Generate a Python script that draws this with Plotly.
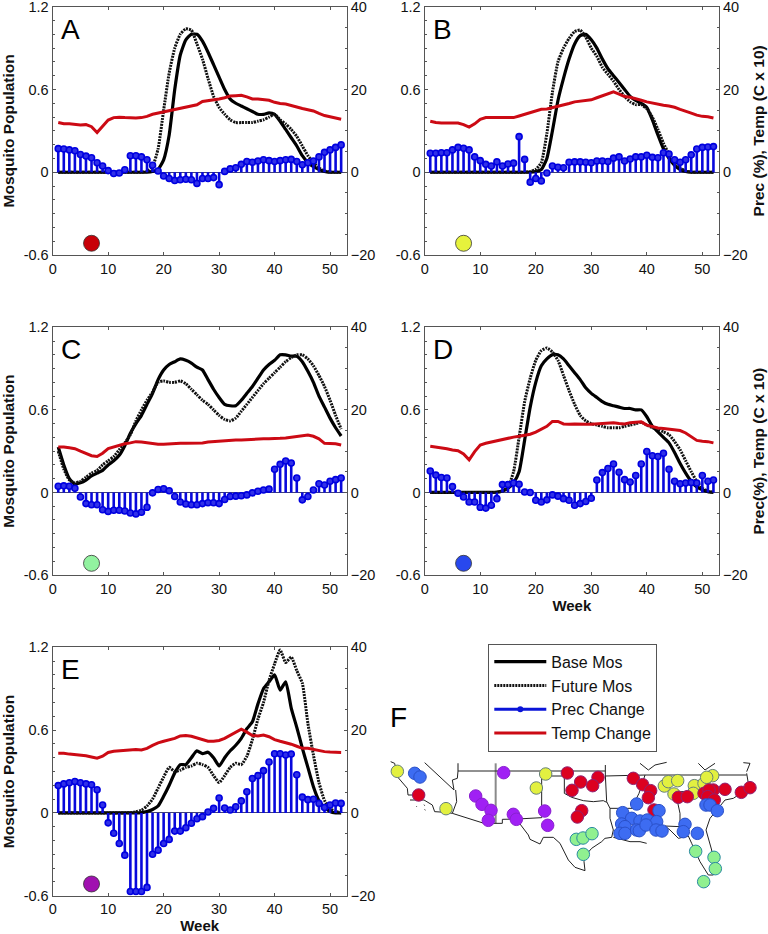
import plotly.graph_objects as go

WEEKS = list(range(1, 53))
PANELS = ["A", "B", "C", "D", "E"]

base_a = [0,0,0,0,0,0,0,0,0,0,0,0,0,0,0,0,0,.005,.02,.09,.27,.6,.85,.96,1.0,1.0,.95,.87,.78,.69,.6,.53,.5,.48,.46,.44,.42,.42,.43,.42,.37,.31,.25,.19,.12,.07,.04,.02,.005,0,0,0]
future_a = [0,0,0,0,0,0,0,0,0,0,0,0,0,0,0,0,.005,.04,.17,.45,.72,.9,1.0,1.04,1.03,.93,.82,.68,.55,.47,.42,.38,.36,.36,.36,.36,.37,.38,.4,.42,.38,.35,.31,.26,.19,.12,.07,.03,.01,0,0,0]
prec_a = [5.7,5.6,5.4,5.2,4.3,3.9,3.5,2.3,1.5,.4,-.3,-.2,.6,4.0,4.0,3.7,3.0,1.7,.3,-.9,-1.5,-2.0,-1.8,-1.7,-1.8,-2.7,-1.5,-1.5,-1.3,-3.0,.2,.8,1.1,1.9,2.6,2.4,2.7,3.0,2.8,2.6,2.8,3.0,3.1,2.6,1.8,2.3,2.7,3.7,4.8,5.4,6.0,6.6]
temp_a = [12.0,11.7,11.7,11.6,11.4,11.5,11.0,9.6,11.0,12.6,13.2,13.3,13.2,13.1,13.1,13.2,13.5,14.0,14.3,14.6,14.8,15.1,15.4,15.7,16.0,16.3,17.1,17.3,17.4,17.7,18.0,18.4,18.5,18.6,18.2,17.7,17.7,17.6,17.4,16.9,16.6,16.5,16.1,15.7,15.4,15.1,14.8,14.2,13.7,13.4,13.1,12.8]

base_b = [0,0,0,0,0,0,0,0,0,0,0,0,0,0,0,0,0,0,0,.005,.02,.1,.3,.52,.68,.82,.93,.99,1.0,.96,.9,.82,.75,.7,.65,.6,.55,.52,.5,.47,.38,.27,.17,.1,.05,.02,.005,0,0,0,0,0]
future_b = [0,0,0,0,0,0,0,0,0,0,0,0,0,0,0,0,0,0,.005,.02,.07,.28,.58,.8,.9,.97,1.02,1.03,.98,.9,.84,.76,.71,.66,.6,.55,.51,.49,.49,.46,.4,.31,.21,.13,.07,.03,.01,0,0,0,0,0]
prec_b = [4.6,4.6,4.7,4.7,5.4,6.0,5.8,5.4,3.7,2.8,1.9,1.5,2.5,1.5,2.0,2.2,8.6,3.1,-2.4,-1.5,-2.1,-.2,1.5,1.2,1.1,2.4,2.5,2.5,2.4,2.3,2.7,2.7,2.6,3.4,3.7,2.7,3.2,3.7,3.7,4.1,3.6,3.5,4.7,4.4,3.0,2.4,3.0,4.2,5.6,6.0,6.1,6.2]
temp_b = [12.3,12.0,11.9,11.9,11.8,11.9,11.5,10.9,11.7,12.8,13.2,13.2,13.1,13.1,13.1,13.2,13.6,14.0,14.5,14.9,15.2,15.3,15.6,16.0,16.2,16.6,17.0,17.2,17.3,17.5,18.0,18.5,19.0,19.4,18.9,18.3,18.1,17.8,17.4,17.0,16.7,16.5,16.2,16.0,15.7,15.2,14.8,14.3,13.8,13.5,13.4,13.1]

base_c = [.33,.2,.1,.06,.07,.09,.12,.14,.16,.2,.23,.27,.34,.43,.5,.56,.64,.72,.82,.89,.93,.95,.97,.96,.94,.91,.89,.82,.75,.69,.64,.63,.63,.67,.72,.77,.83,.89,.93,.96,1.0,1.0,.99,.99,.95,.88,.8,.7,.62,.54,.47,.41]
future_c = [.3,.17,.09,.07,.08,.11,.14,.16,.2,.23,.26,.31,.36,.42,.52,.6,.67,.73,.8,.81,.8,.8,.81,.79,.75,.71,.67,.64,.6,.56,.53,.52,.54,.59,.64,.69,.74,.79,.83,.87,.91,.95,.98,1.0,1.0,.97,.92,.85,.77,.67,.56,.46]
prec_c = [1.5,1.6,1.5,1.0,-1.1,-2.7,-3.0,-3.0,-4.2,-4.6,-4.3,-4.3,-4.5,-5.0,-5.2,-4.8,-3.6,-.1,.7,.9,.4,-1.0,-2.3,-2.8,-3.0,-3.0,-2.7,-2.5,-2.5,-2.7,-1.7,-1.0,-.9,-.8,-.6,-.1,.3,.6,.8,5.6,6.8,7.6,7.1,3.5,-1.8,-1.0,.6,2.1,1.8,2.7,3.1,3.5]
temp_c = [11.0,11.0,10.8,10.6,10.0,9.5,8.9,8.7,9.5,10.6,11.0,11.4,11.8,12.0,12.3,12.2,12.0,11.9,11.7,11.7,11.8,11.8,11.9,11.9,11.9,12.0,12.0,12.2,12.3,12.4,12.6,12.7,12.7,12.7,12.8,12.9,12.9,13.0,13.0,13.0,13.1,13.2,13.4,13.5,13.8,13.9,13.6,13.0,11.9,11.9,11.8,11.5]

base_d = [0,0,0,0,0,0,0,0,0,0,0,0,.002,.01,.03,.07,.15,.38,.62,.8,.92,.97,1.0,1.0,.97,.92,.87,.82,.76,.72,.69,.66,.64,.63,.62,.61,.61,.6,.6,.55,.48,.44,.4,.36,.29,.21,.14,.08,.04,.02,.005,0]
future_d = [0,0,0,0,0,0,0,0,0,0,0,0,0,.01,.04,.15,.4,.66,.83,.96,1.03,1.05,1.02,.96,.85,.74,.64,.56,.52,.5,.49,.48,.47,.47,.47,.48,.49,.5,.51,.49,.47,.46,.44,.42,.37,.31,.23,.15,.08,.03,.01,0]
prec_d = [5.2,4.2,3.6,3.5,1.4,-.2,-1.1,-2.3,-2.3,-3.6,-3.8,-3.1,-1.5,1.9,1.9,2.3,2.0,.1,0,-1.9,-2.3,-1.8,-.6,-.9,-1.5,-1.9,-3.1,-2.7,-2.2,-1.4,3.0,4.8,5.8,6.9,4.9,3.1,2.5,4.1,6.9,9.9,8.9,8.7,9.5,5.6,2.7,2.1,2.3,2.4,2.3,4.1,2.7,3.0]
temp_d = [11.2,11.0,10.9,10.6,10.3,10.1,9.3,7.9,9.9,11.5,11.9,12.2,12.5,12.8,13.2,13.4,13.6,13.9,14.1,14.6,15.2,16.0,17.2,17.2,16.6,16.5,16.6,16.5,16.5,16.5,16.6,16.7,16.8,16.9,16.7,16.6,16.9,17.0,17.1,16.3,15.9,15.6,15.5,15.3,15.2,15.0,14.4,13.5,12.6,12.4,12.3,12.0]

base_e = [0,0,0,0,0,0,0,0,0,0,0,0,0,0,0,.002,.01,.025,.05,.12,.2,.29,.35,.35,.4,.45,.43,.44,.4,.34,.4,.45,.49,.54,.61,.66,.79,.9,.95,1.0,.89,.95,.76,.62,.47,.33,.19,.09,.04,.01,0,0]
future_e = [0,0,0,0,0,0,0,0,0,0,0,0,0,.002,.008,.02,.05,.1,.18,.26,.33,.3,.31,.33,.34,.36,.35,.33,.27,.22,.27,.33,.36,.35,.41,.53,.68,.8,.96,1.08,1.18,1.09,1.13,1.03,.94,.65,.42,.22,.09,.03,.01,0]
prec_e = [6.6,7.0,7.3,7.6,7.3,7.0,6.8,5.6,1.9,-2.4,-4.9,-7.4,-10.2,-19,-19,-19,-18,-10,-9,-7.4,-6.4,-4.4,-4.4,-3.6,-2.5,-1.4,-.9,.2,1.1,3.6,1.2,.7,1.5,2.9,5.1,8.3,9.0,10.2,12.3,14.3,14.3,14.0,14.2,9.2,3.8,3.2,3.3,2.3,1.3,1.9,2.4,2.3]
temp_e = [14.4,14.4,14.2,14.1,14.0,13.8,13.5,13.2,13.7,14.6,14.9,15.0,15.1,15.2,15.3,15.2,15.6,16.3,16.9,17.3,17.6,18.0,18.6,18.7,18.5,18.1,17.6,17.3,17.3,17.5,18.0,18.7,19.3,20.2,19.5,18.7,18.6,18.8,18.4,17.7,17.3,17.0,16.6,16.1,15.6,15.6,15.3,15.1,14.8,14.7,14.7,14.6]

panel_dot_week = 7
panel_dot_value = -0.515
panel_dot_colors = ["#c80008", "#e6f23c", "#92f2a0", "#2848ee", "#a010b0"]

# map, in the map axes' own units
outline_x = [20,32,40,70,72,90,None,78,120,145,152,185,205,300,335,355,355,400,473,None,
             122,210,205,220,222,None,215,218,205,None,222,335,None,408,433,438,468,478,508,528,553,573,603,600,603,623,653,663,683,688,678,678,668,664,664,None,
             400,408,None,473,473,None,473,541,541,563,598,628,658,668,None,335,664,None,664,783,1088,None,
             678,748,None,783,775,765,755,748,None,688,738,768,788,None,843,858,883,913,923,948,973,988,986,983,966,978,1023,1048,1078,1093,1088,None,
             843,888,888,875,None,875,968,None,768,793,813,848,None,943,963,993,None,1078,1098,1088,None,
             97,98,None,120,122,None,122,124]
outline_y = [395,400,440,475,495,495,None,510,510,525,545,547,550,580,580,580,568,567,563,None,
             398,480,450,445,423,None,480,515,550,None,423,423,None,582,615,628,642,622,622,640,690,712,722,695,678,655,635,625,622,600,565,535,515,435,405,None,
             567,582,None,423,563,None,438,438,490,502,512,515,512,517,None,423,423,None,438,435,435,None,
             535,535,None,435,460,490,510,530,None,622,635,635,640,None,588,600,625,618,640,695,735,735,690,660,600,565,510,505,485,460,430,None,
             588,590,550,490,None,485,485,None,400,420,405,397,None,400,420,400,None,398,400,425,None,
             528,530,None,524,527,None,538,541]
gray_x = [335,335,None,222,222]
gray_y = [400,580,None,400,423]

yellow_x = [40,186,485,457,841,853,881,870,931,928,960,986,968]
yellow_y = [424,536,432,474,468,455,452,492,467,490,460,437,442]
red_x = [104,550,642,590,626,564,593,580,748,776,800,793,810,883,910,960,988,975,971,991,1023,1072,1098]
red_y = [495,429,442,456,467,481,542,561,445,464,482,503,540,502,500,490,480,480,500,510,478,487,473]
green_x = [577,597,624,598,935,990,994,959]
green_y = [628,624,611,673,664,682,716,755]
purple_x = [359,275,294,321,313,388,397,482,491]
purple_y = [428,498,523,541,571,553,568,543,586]
blue_x = [92,108,758,825,716,743,713,723,768,790,818,708,723,758,766,786,816,834,903,898,940,966,978,1000]
blue_y = [430,441,522,542,548,565,582,590,573,570,575,610,610,600,602,585,600,603,583,605,610,525,525,542]

W, H = 768, 934
COLS = [(52.7, 346.7), (424.7, 719.0)]
ROWS = [(6.7, 255.0), (327.3, 575.0), (647.3, 895.7)]
cells = [(0, 0), (1, 0), (0, 1), (1, 1), (0, 2)]
data = [(base_a, future_a, prec_a, temp_a), (base_b, future_b, prec_b, temp_b),
        (base_c, future_c, prec_c, temp_c), (base_d, future_d, prec_d, temp_d),
        (base_e, future_e, prec_e, temp_e)]

FONT = "Liberation Sans, Arial, sans-serif"
AXIS = "#555555"
fig = go.Figure()
layout = {}
annotations = []
for i, (letter, (c, r), (base, fut, prec, temp)) in enumerate(zip(PANELS, cells, data)):
    n = i + 1
    xa, ya, yb = f"x{n if n>1 else ''}", f"y{2*n-1 if n>1 else ''}", f"y{2*n}"
    first = i == 0
    common = dict(x=WEEKS, mode="lines")
    fig.add_trace(go.Scatter(**common, y=base, xaxis=xa, yaxis=ya, name="Base Mos", showlegend=first,
                             line=dict(color="#000000", width=3.2, shape="spline", smoothing=0.5)))
    fig.add_trace(go.Scatter(**common, y=fut, xaxis=xa, yaxis=ya, name="Future Mos", showlegend=first,
                             line=dict(color="#111111", width=3, dash="2px,1px", shape="spline", smoothing=0.5)))
    fig.add_trace(go.Scatter(x=[panel_dot_week], y=[panel_dot_value], xaxis=xa, yaxis=ya, mode="markers", showlegend=False,
                             marker=dict(size=16, color=panel_dot_colors[i], line=dict(color="#333333", width=0.8))))
    if first:
        fig.add_trace(go.Scatter(x=[None], y=[None], xaxis=xa, yaxis=yb, mode="lines+markers", name="Prec Change",
                                 line=dict(color="#0a14d8", width=3), marker=dict(size=6, color="#0a14d8")))
    fig.add_trace(go.Scatter(**common, y=temp, xaxis=xa, yaxis=yb, name="Temp Change", showlegend=first,
                             line=dict(color="#cc0a14", width=3)))
    fig.add_trace(go.Scatter(x=WEEKS, y=prec, xaxis=xa, yaxis=yb, mode="markers", showlegend=False,
                             marker=dict(size=6, color="#3030e8", line=dict(color="#0000e0", width=1.6)),
                             error_y=dict(type="data", symmetric=False,
                                          array=[-v if v < 0 else 0 for v in prec],
                                          arrayminus=[v if v > 0 else 0 for v in prec],
                                          width=0, thickness=2.6, color="#0808dc")))
    x0, x1 = COLS[c]; y0, y1 = ROWS[r]
    dom_x = [x0 / W, x1 / W]; dom_y = [1 - y1 / H, 1 - y0 / H]
    ax_common = dict(showgrid=False, showline=True, linecolor=AXIS, linewidth=1.3, automargin=False,
                     ticklabeloverflow="allow",
                     tickfont=dict(family=FONT, size=14.5, color="#111111"), tickcolor=AXIS)
    xtitle = dict(text="<b>Week</b>", font=dict(family=FONT, size=15, color="#111"), standoff=4) if letter in "DE" else None
    layout[f"xaxis{n if n>1 else ''}"] = dict(domain=dom_x, range=[0, 53], anchor=ya, dtick=10, tick0=0, ticks="inside",
                                               ticklen=3, mirror="ticks", zeroline=False, title=xtitle, **ax_common)
    ytitle = dict(text="<b>Mosquito Population</b>", font=dict(family=FONT, size=15.5, color="#111"), standoff=8) if c == 0 else None
    layout[f"yaxis{2*n-1 if n>1 else ''}"] = dict(domain=dom_y, range=[-0.6, 1.2], anchor=xa, tickvals=[-0.6, 0, 0.6, 1.2],
                                                  ticktext=["-0.6", "0", "0.6", "1.2"], ticks="inside", ticklen=3,
                                                  minor=dict(dtick=0.1, ticks="inside", ticklen=2, tickcolor=AXIS),
                                                  zeroline=True, zerolinecolor="#40407a", zerolinewidth=1.2,
                                                  title=ytitle, **ax_common)
    rtext = {"B": "<b>Prec (%), Temp (C x 10)</b>", "D": "<b>Prec(%), Temp (C x 10)</b>"}.get(letter)
    rtitle = dict(text=rtext, font=dict(family=FONT, size=15.5, color="#111"), standoff=6) if rtext else None
    layout[f"yaxis{2*n}"] = dict(domain=dom_y, range=[-20, 40], anchor=xa, overlaying=ya, side="right",
                                 tickvals=[-20, 0, 20, 40], ticks="inside", ticklen=3,
                                 minor=dict(dtick=5, ticks="inside", ticklen=2, tickcolor=AXIS),
                                 zeroline=False, title=rtitle, **ax_common)
    annotations.append(dict(text=letter, xref="paper", yref="paper", x=(x0 + 6) / W, y=1 - (y0 + 5) / H,
                            xanchor="left", yanchor="top", showarrow=False,
                            font=dict(family=FONT, size=28, color="#000")))

# map
mx, my = "x6", "y11"
fig.add_trace(go.Scatter(x=gray_x, y=gray_y, xaxis=mx, yaxis=my, mode="lines", showlegend=False,
                         line=dict(color="#8a8a8a", width=2)))
fig.add_trace(go.Scatter(x=outline_x, y=outline_y, xaxis=mx, yaxis=my, mode="lines", showlegend=False,
                         line=dict(color="#222222", width=1)))
for xs, ys, col, edge in [(purple_x, purple_y, "#a020f4", "#8a20d0"),
                          (yellow_x, yellow_y, "#e2f040", "#66807a"),
                          (red_x, red_y, "#dc0020", "#902070"),
                          (green_x, green_y, "#90f090", "#2a8aa0"),
                          (blue_x, blue_y, "#3d6cf2", "#2a50c8")]:
    fig.add_trace(go.Scatter(x=xs, y=ys, xaxis=mx, yaxis=my, mode="markers", showlegend=False,
                             marker=dict(size=12.5, color=col, line=dict(color=edge, width=1))))
layout["xaxis6"] = dict(domain=[0.5, 1], range=[0, 1152], anchor=my, visible=False, automargin=False)
layout["yaxis11"] = dict(domain=[0, 1 - 630 / H], range=[912, 0], anchor=mx, visible=False, automargin=False)
annotations.append(dict(text="F", xref="paper", yref="paper", x=388 / W, y=1 - 700 / H, xanchor="left", yanchor="top",
                        showarrow=False, font=dict(family=FONT, size=28, color="#000")))

fig.update_layout(width=W, height=H, autosize=False, margin=dict(l=0, r=0, t=0, b=0),
                  paper_bgcolor="white", plot_bgcolor="rgba(0,0,0,0)", annotations=annotations,
                  legend=dict(x=488.3 / W, xanchor="left", y=1 - 643.7 / H, yanchor="top", bgcolor="white",
                              bordercolor="#555555", borderwidth=1, itemwidth=52, traceorder="normal",
                              font=dict(family=FONT, size=16, color="#111")),
                  **layout)
fig.write_html("out.html", config=dict(displayModeBar=False),
               post_script="document.body.style.margin='0';document.body.style.overflow='hidden';")
